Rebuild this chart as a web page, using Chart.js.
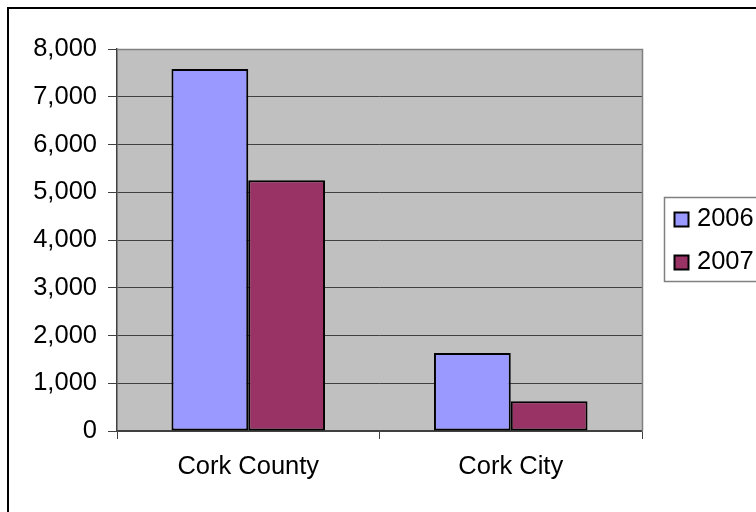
<!DOCTYPE html>
<html>
<head>
<meta charset="utf-8">
<script src="https://cdn.jsdelivr.net/npm/chart.js@4/dist/chart.umd.min.js"></script>
<style>
  html, body { margin: 0; padding: 0; background: #ffffff; }
  canvas { display: block; }
</style>
</head>
<body>
<canvas id="c" width="756" height="512"></canvas>
<script>
const categories = ['Cork County', 'Cork City'];
const seriesLabels = ['2006', '2007'];
const values2006 = [7580, 1635];
const values2007 = [5250, 625];
const seriesColors = ['#9999FF', '#993366'];
const yTickLabels = ['0', '1,000', '2,000', '3,000', '4,000', '5,000', '6,000', '7,000', '8,000'];
const yMin = 0, yMax = 8000, yStep = 1000;

const FONT_FAMILY = "'Liberation Sans', Arial, sans-serif";
const FONT_SIZE = 25.5;

const frameAndPlot = {
  id: 'frameAndPlot',
  beforeDraw(chart) {
    const ctx = chart.ctx;
    const a = chart.chartArea;
    ctx.save();
    ctx.fillStyle = '#ffffff';
    ctx.fillRect(0, 0, chart.width, chart.height);
    // outer chart frame (only left and top edges fall inside the picture)
    ctx.strokeStyle = '#000000';
    ctx.lineWidth = 2;
    ctx.strokeRect(8, 8, 900, 700);
    // plot area
    ctx.fillStyle = '#C0C0C0';
    ctx.fillRect(a.left, a.top, a.right - a.left, a.bottom - a.top);
    ctx.restore();
  },
  afterDatasetsDraw(chart) {
    const ctx = chart.ctx;
    const a = chart.chartArea;
    ctx.save();
    ctx.strokeStyle = '#808080';
    ctx.lineWidth = 1.5;
    ctx.beginPath();
    ctx.moveTo(a.left, a.top + 0.5);
    ctx.lineTo(a.right + 0.5, a.top + 0.5);
    ctx.lineTo(a.right + 0.5, a.bottom);
    ctx.stroke();
    ctx.restore();
  },
  afterDraw(chart) {
    // legend built from the datasets
    const ctx = chart.ctx;
    ctx.save();
    ctx.strokeStyle = '#808080';
    ctx.lineWidth = 1.5;
    ctx.strokeRect(664.5, 197.5, 200, 84);
    ctx.font = FONT_SIZE + 'px ' + FONT_FAMILY;
    ctx.textBaseline = 'alphabetic';
    ctx.textAlign = 'left';
    chart.data.datasets.forEach((ds, i) => {
      const cy = 219.5 + i * 43;
      ctx.fillStyle = ds.backgroundColor;
      ctx.fillRect(674.5, cy - 7, 14, 14);
      ctx.strokeStyle = '#000000';
      ctx.lineWidth = 2;
      ctx.strokeRect(674.5, cy - 7, 14, 14);
      ctx.fillStyle = '#000000';
      ctx.fillText(ds.label, 697, cy + 6.5);
    });
    ctx.restore();
  }
};

new Chart(document.getElementById('c'), {
  type: 'bar',
  data: {
    labels: categories,
    datasets: [
      { label: seriesLabels[0], data: values2006, backgroundColor: seriesColors[0],
        borderColor: '#000000', borderWidth: 2, borderSkipped: false },
      { label: seriesLabels[1], data: values2007, backgroundColor: seriesColors[1],
        borderColor: '#000000', borderWidth: 2, borderSkipped: false }
    ]
  },
  options: {
    responsive: false,
    animation: false,
    devicePixelRatio: 1,
    layout: { padding: { left: 0, top: 49, right: 114, bottom: 0 } },
    datasets: { bar: { categoryPercentage: 0.585, barPercentage: 1.0 } },
    plugins: { legend: { display: false }, tooltip: { enabled: false } },
    scales: {
      x: {
        grid: { offset: true, drawOnChartArea: false, drawTicks: true, tickLength: 8, color: '#404040', lineWidth: 1 },
        border: { display: true, color: '#404040', width: 1.5 },
        ticks: { color: '#000000', padding: 13, maxRotation: 0, autoSkip: false,
                 font: { family: FONT_FAMILY, size: FONT_SIZE } },
        afterFit(scale) { scale.height = 81; }
      },
      y: {
        min: yMin, max: yMax,
        grid: { color: '#404040', lineWidth: 1, drawTicks: true, tickLength: 9 },
        border: { display: true, color: '#404040', width: 1.5 },
        ticks: {
          stepSize: yStep, color: '#000000', padding: 11,
          font: { family: FONT_FAMILY, size: FONT_SIZE },
          callback: (v) => yTickLabels[Math.round((v - yMin) / yStep)]
        },
        afterFit(scale) { scale.width = 117; }
      }
    }
  },
  plugins: [frameAndPlot]
});
</script>
</body>
</html>
